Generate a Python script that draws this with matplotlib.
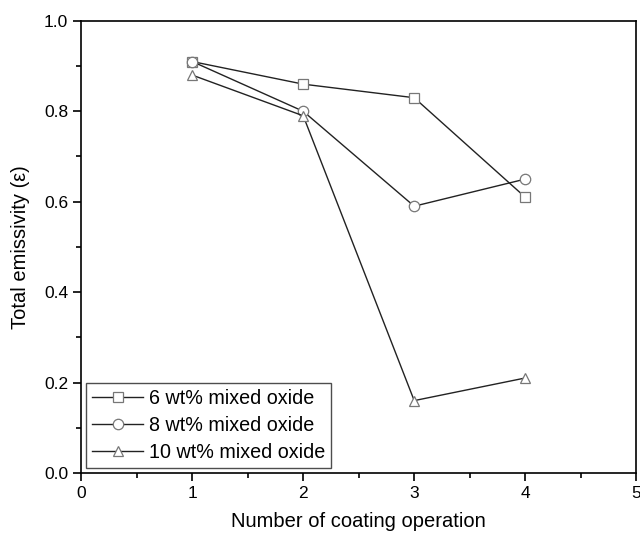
import matplotlib.pyplot as plt
from matplotlib.ticker import MultipleLocator

plt.rcParams['font.family'] = ['Liberation Sans', 'DejaVu Sans']

coating_ops = [1, 2, 3, 4]
wt6 = [0.91, 0.86, 0.83, 0.61]
wt8 = [0.91, 0.80, 0.59, 0.65]
wt10 = [0.88, 0.79, 0.16, 0.21]
labels = ['6 wt% mixed oxide', '8 wt% mixed oxide', '10 wt% mixed oxide']

fig = plt.figure(figsize=(6.4, 5.35), dpi=100)
ax = fig.add_axes([0.127, 0.116, 0.867, 0.845])

for ys, m, lab in zip([wt6, wt8, wt10], ['s', 'o', '^'], labels):
    ax.plot(coating_ops, ys, color='#222222', lw=1.0, marker=m, ms=7.5,
            mfc='white', mec='#777777', mew=0.9, label=lab)

ax.set_xlim(0, 5)
ax.set_ylim(0, 1.0)
ax.xaxis.set_major_locator(MultipleLocator(1))
ax.xaxis.set_minor_locator(MultipleLocator(0.5))
ax.yaxis.set_major_locator(MultipleLocator(0.2))
ax.yaxis.set_minor_locator(MultipleLocator(0.1))
ax.tick_params(which='both', direction='out', width=1.2, labelsize=12.5)
ax.tick_params(which='major', length=6)
ax.tick_params(which='minor', length=3.5)
for s in ax.spines.values():
    s.set_linewidth(1.2)

ax.set_xlabel('Number of coating operation', fontsize=14.5, labelpad=8)
ax.set_ylabel('Total emissivity (\u03b5)', fontsize=14.5, labelpad=10)

leg = ax.legend(loc='lower left', fontsize=14.2, frameon=True, fancybox=False,
                edgecolor='#222222', handlelength=2.6, handletextpad=0.3,
                borderaxespad=0.25, labelspacing=0.4, borderpad=0.3)
leg.get_frame().set_linewidth(1.0)

fig.savefig('out.png', dpi=100)
